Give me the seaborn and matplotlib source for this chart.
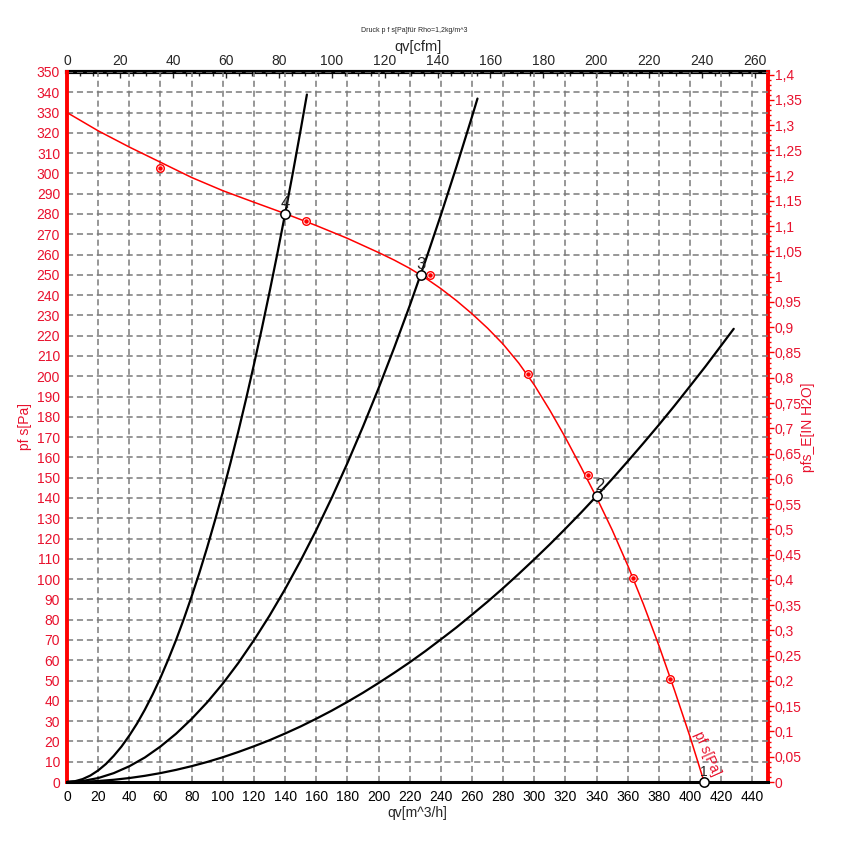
import seaborn as sns
import matplotlib.pyplot as plt
from matplotlib.ticker import MultipleLocator, FuncFormatter

sns.set_style("white")
plt.rcParams['font.family'] = ['Liberation Sans', 'DejaVu Sans']

RED = '#ff0000'
RED_TXT = '#e8112d'

# fan curve pf s [Pa] vs qv [m^3/h]
fan_q = [0, 20, 40, 60, 80, 100, 120, 140, 160, 180, 200, 210, 220, 230, 240, 250,
         260, 270, 280, 290, 300, 310, 320, 330, 340, 350, 360, 370, 380, 390, 400, 409]
fan_p = [330, 321, 313, 305.5, 298, 291.5, 285.8, 280.2, 274.3, 268, 261, 257.3, 253.2,
         248.5, 243.2, 237.3, 230.8, 223.7, 215.8, 206.5, 195.7, 183.2, 169.7, 155.2,
         140.2, 124.2, 106.7, 87.7, 67.2, 45.2, 22.2, 0]

# measured points (red circled markers)
meas_q = [59.6, 153.3, 233.2, 295.8, 334.7, 363.6, 387.3]
meas_p = [302.8, 276.6, 250.1, 201, 151.3, 100.5, 50.8]

# system curves 4, 3, 2
sys4_q = [0, 5, 10, 15, 20, 25, 30, 35, 40, 45, 50, 55, 60, 65, 70, 75, 80, 85, 90, 95,
          100, 105, 110, 115, 120, 125, 130, 135, 140, 145, 150, 154]
sys4_p = [0, 0.36, 1.43, 3.2, 5.7, 8.9, 12.9, 17.5, 22.9, 28.9, 35.7, 43.2, 51.4, 60.4,
          70, 80.4, 91.5, 103.2, 115.7, 129, 142.9, 157.5, 172.9, 189, 205.8, 223.3, 241.5,
          260.4, 280.1, 300.4, 321.5, 338.9]
sys3_q = [0, 10, 20, 30, 40, 50, 60, 70, 80, 90, 100, 110, 120, 130, 140, 150, 160, 170,
          180, 190, 200, 210, 220, 230, 240, 250, 260, 263.5]
sys3_p = [0, 0.49, 1.94, 4.37, 7.76, 12.1, 17.5, 23.8, 31.1, 39.3, 48.5, 58.7, 69.9, 82,
          95.1, 109.2, 124.2, 140.2, 157.2, 175.2, 194.1, 214, 234.8, 256.7, 279.5, 303.3,
          328, 336.9]
sys2_q = [0, 10, 20, 30, 40, 50, 60, 70, 80, 90, 100, 110, 120, 130, 140, 150, 160, 170,
          180, 190, 200, 210, 220, 230, 240, 250, 260, 270, 280, 290, 300, 310, 320, 330,
          340, 350, 360, 370, 380, 390, 400, 410, 420, 428]
sys2_p = [0, 0.12, 0.49, 1.1, 1.95, 3.05, 4.39, 5.98, 7.81, 9.88, 12.2, 14.8, 17.6, 20.6,
          23.9, 27.4, 31.2, 35.2, 39.5, 44, 48.8, 53.8, 59, 64.5, 70.3, 76.2, 82.5, 88.9,
          95.6, 102.6, 109.8, 117.2, 124.9, 132.8, 141, 149.4, 158.1, 167, 176.1, 185.5,
          195.2, 205, 215.2, 223.4]

# operating points
op_q = [409, 340, 227, 140]
op_p = [0, 141, 250, 280]
op_lbl = ['1', '2', '3', '4']

CFM = 1.699      # m^3/h per cfm
INH2O = 249.09   # Pa per inch H2O

fig = plt.figure(figsize=(8.42, 8.5), dpi=100)
ax = fig.add_axes([0.0796, 0.08, 0.8325, 0.8353])

ax.set_xlim(0, 450)
ax.set_ylim(0, 350)

# grid
ax.xaxis.set_major_locator(MultipleLocator(20))
ax.xaxis.set_minor_locator(MultipleLocator(5))
ax.yaxis.set_major_locator(MultipleLocator(10))
ax.yaxis.set_minor_locator(MultipleLocator(2))
ax.grid(True, which='major', color='#7a7a7a', linestyle=(0, (4, 2.5)), linewidth=1.1)
ax.set_axisbelow(True)

for q, p in [(sys4_q, sys4_p), (sys3_q, sys3_p), (sys2_q, sys2_p)]:
    sns.lineplot(x=q, y=p, ax=ax, color='black', linewidth=1.6, sort=False, zorder=3)

sns.lineplot(x=fan_q, y=fan_p, ax=ax, color=RED, linewidth=1.1, sort=False, zorder=4)

ax.scatter(meas_q, meas_p, s=30, facecolor='white', edgecolor=RED, linewidth=1.0, zorder=5)
ax.scatter(meas_q, meas_p, s=5, color=RED, zorder=6)

ax.scatter(op_q, op_p, s=45, facecolor='white', edgecolor='black', linewidth=1.1,
           zorder=7, clip_on=False)
for q, p, t in zip(op_q, op_p, op_lbl):
    dx = 2 if t == '2' else 0
    fs = 10 if t == '1' else 12
    ax.annotate(t, (q, p), xytext=(dx, 2), textcoords='offset points', ha='center',
                va='bottom', fontsize=fs, color='#222222', zorder=8)

ax.text(411, 14, 'pf s[Pa]', color=RED_TXT, fontsize=10, rotation=-66,
        ha='center', va='center', rotation_mode='anchor', zorder=6)

# spines
for s in ['top', 'right']:
    ax.spines[s].set_visible(False)
ax.spines['bottom'].set_color('black')
ax.spines['bottom'].set_linewidth(2.2)
ax.spines['left'].set_color(RED)
ax.spines['left'].set_linewidth(2.8)

ax.tick_params(axis='x', which='major', direction='out', length=4, width=1, colors='black',
               labelsize=10, pad=2)
ax.tick_params(axis='x', which='minor', direction='out', length=3, width=1, colors='black')
ax.tick_params(axis='y', which='major', direction='out', length=4, width=1, colors=RED,
               labelcolor=RED_TXT, labelsize=10, pad=1)
ax.tick_params(axis='y', which='minor', direction='out', length=2.5, width=1, colors=RED)

ax.set_xlabel('qv[m^3/h]', fontsize=10, labelpad=1)
ax.set_ylabel('pf s[Pa]', fontsize=10, color=RED_TXT)
ax.yaxis.set_label_coords(-0.05, 0.5)

# top axis in cfm
top = ax.secondary_xaxis('top', functions=(lambda v: v / CFM, lambda v: v * CFM))
top.xaxis.set_major_locator(MultipleLocator(20))
top.xaxis.set_minor_locator(MultipleLocator(5))
top.spines['top'].set_linewidth(3)
top.spines['top'].set_color('black')
top.tick_params(which='major', direction='in', length=4, width=1, labelsize=10, pad=3)
top.tick_params(which='minor', direction='in', length=3, width=1)
top.set_xlabel('qv[cfm]', fontsize=10.5, labelpad=2)

# right axis in inch H2O
right = ax.secondary_yaxis('right', functions=(lambda v: v / INH2O, lambda v: v * INH2O))
right.yaxis.set_major_locator(MultipleLocator(0.05))
right.yaxis.set_minor_locator(MultipleLocator(0.01))
right.yaxis.set_major_formatter(FuncFormatter(lambda v, _: f"{round(v, 2):g}".replace('.', ',')))
right.spines['right'].set_linewidth(2.8)
right.spines['right'].set_color(RED)
right.tick_params(which='major', direction='out', length=4, width=1, colors=RED,
                  labelcolor=RED_TXT, labelsize=10, pad=1)
right.tick_params(which='minor', direction='out', length=2.5, width=1, colors=RED)
right.set_ylabel('pfs_E[IN H2O]', fontsize=10, color=RED_TXT, labelpad=-1)

fig.text(0.492, 1 - 30 / 850, 'Druck p f s[Pa]für Rho=1,2kg/m^3', fontsize=5,
         ha='center', va='center')

fig.savefig('out.png', dpi=100)
plt.close(fig)
